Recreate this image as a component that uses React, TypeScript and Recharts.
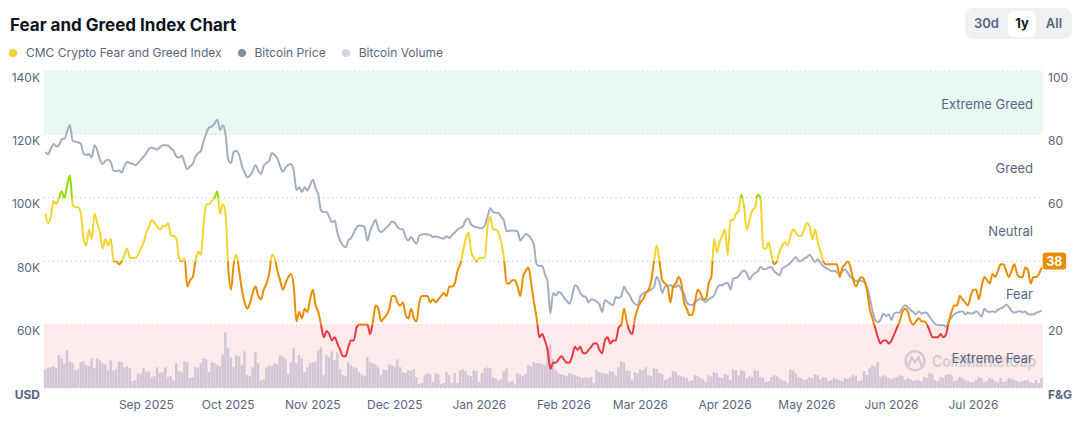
import React from 'react';
import {
  ComposedChart,
  Line,
  Bar,
  XAxis,
  YAxis,
  CartesianGrid,
  ReferenceArea,
  ReferenceDot,
} from 'recharts';

// ---------- DATA ----------
const START_DATE = '2025-07-26';

// Bitcoin price, thousands of USD (daily)
const btcPrice = [
  114.5, 113.8, 115.5, 117, 116.2, 116.6, 118.5, 118.7, 121, 123,
  118, 117.7, 117.5, 117, 114, 113.5, 113.8, 112.7, 116.6, 115,
  112, 110.7, 111.7, 112, 111.2, 108.5, 108.4, 108.6, 108, 110,
  111.4, 110.9, 110.7, 110.3, 111, 112, 113, 114.1, 115.5, 115.9,
  115.5, 115.2, 116, 116.6, 116.6, 116.5, 115.5, 114.8, 113, 112.7,
  113.3, 111, 109, 110, 110.7, 113, 114.1, 114.8, 118, 120.5,
  122.2, 122.5, 123.5, 124.6, 121.4, 122.9, 120, 112, 110.9, 114.5,
  114.8, 113.5, 110.1, 108, 106.5, 107, 108.5, 110.3, 108.5, 107.5,
  110.1, 111, 111.7, 114.1, 113.5, 112.4, 110, 108.2, 109.5, 110.3,
  110.7, 108.5, 102.5, 103.3, 101.8, 103.3, 102.3, 104, 105.7, 103,
  101, 96, 95.5, 95.5, 94, 92.3, 92.8, 89, 86.5, 85,
  84.4, 86.5, 87.3, 89, 90.7, 91.3, 91.2, 90.6, 86.5, 89.5,
  91.5, 93.1, 90.2, 89.2, 89.8, 90.7, 91.5, 92.5, 92.1, 90.8,
  90.2, 90, 87.5, 86.5, 87.6, 86.5, 85.5, 88.1, 88.4, 88.6,
  88.4, 88.3, 87.6, 87.8, 87.6, 87.3, 87.1, 87.9, 87.3, 88.3,
  89, 90, 90.5, 91, 93, 93.5, 91.5, 91, 90.7, 90.5,
  90.4, 91.3, 94, 96.7, 95.5, 95.3, 95.2, 94, 92.8, 89.4,
  89.6, 89.7, 89.6, 89.4, 86.5, 87.5, 88.6, 88.1, 87, 85,
  79, 78.5, 78.5, 76, 73.5, 63.5, 70, 69.2, 70.3, 69.9,
  68.5, 67.5, 66.6, 69, 72.4, 71.8, 70, 69, 68.7, 67,
  68, 67.8, 67.2, 66.3, 64, 67.7, 67.2, 66.5, 66.1, 68.7,
  68.4, 69, 72, 70.3, 69.4, 67.5, 66.5, 66.1, 69, 69.8,
  70.3, 70.6, 71.1, 71.9, 75, 73.4, 70, 72, 72.3, 72.4,
  71.9, 71.9, 72.4, 71, 69.8, 67, 66.3, 66.1, 67, 67.7,
  68.2, 67.7, 67.1, 68, 68.5, 69.2, 71.3, 72.4, 72.4, 73,
  73.2, 71.1, 74.5, 74.7, 75.3, 76.5, 77.1, 76.1, 74.2, 75.5,
  76.3, 76.8, 78.2, 77.5, 77.5, 78, 78.2, 76.8, 76.1, 75.6,
  77.8, 78.2, 78.8, 79.5, 80.5, 81.3, 80, 80.2, 80.8, 81.3,
  82, 80.8, 79.8, 80.6, 79.5, 78.5, 77.8, 77.4, 76.8, 77,
  76.5, 76.1, 76.8, 77.4, 76.3, 75, 74.5, 73.7, 73.9, 73.8,
  73.4, 71.8, 68.5, 64.5, 61.5, 60.8, 61.5, 63.5, 62.7, 63.2,
  61.5, 63.5, 63.8, 63.8, 65.3, 66.1, 65.5, 64.5, 64, 63.2,
  64.2, 63.4, 63.8, 63.6, 62.4, 61.2, 60.2, 59.9, 59.8, 59.8,
  59.3, 61, 62.3, 63.2, 63.8, 64, 64.2, 63.2, 63.8, 63.5,
  63.6, 64.2, 63.5, 62.5, 65, 64.2, 64, 64.2, 64, 64.7,
  65.1, 65.5, 66.3, 65.6, 64.3, 63.8, 64, 64.2, 63.9, 64.1,
  63.3, 63.2, 63.2, 63.8, 64, 64.5,
];

// CMC Crypto Fear and Greed Index (0-100, daily)
const fearGreed = [
  55, 52, 54, 59, 58, 60, 62, 60, 64, 67,
  58, 57, 57, 55, 47, 45, 50, 47, 55, 52,
  49, 44, 47, 45, 47, 40, 40, 39, 40, 42,
  44, 41, 41, 41, 42, 44, 46, 49, 51, 53,
  52, 51, 50, 51, 51, 52, 48, 48, 47, 41,
  40, 41, 32, 34, 35, 40, 43, 42, 52, 58,
  58, 59, 60, 62, 55, 58, 55, 38, 31, 39,
  42, 37, 31, 27, 25, 27, 30, 32, 29, 28,
  31, 33, 36, 42, 41, 37, 34, 31, 33, 35,
  36, 32, 21, 24, 22, 25, 24, 28, 31, 26,
  24, 20, 16, 18, 17, 15, 16, 14, 12, 10,
  10, 13, 15, 15, 19, 20, 20, 20, 20, 17,
  21, 26, 25, 21, 22, 23, 25, 29, 29, 27,
  26, 27, 23, 22, 25, 22, 21, 27, 29, 29,
  29, 27, 28, 27, 28, 29, 30, 29, 32, 32,
  33, 37, 39, 43, 47, 49, 43, 41, 40, 41,
  41, 41, 51, 54, 50, 50, 49, 46, 41, 33,
  33, 34, 34, 32, 29, 35, 37, 38, 33, 27,
  22, 16, 17, 15, 12, 6, 8, 8, 9, 10,
  9, 8, 8, 10, 13, 12, 13, 11, 11, 12,
  13, 14, 14, 12, 11, 15, 16, 14, 15, 15,
  19, 20, 25, 21, 18, 17, 22, 25, 27, 28,
  30, 31, 34, 40, 45, 40, 34, 33, 32, 27,
  32, 33, 35, 33, 27, 25, 23, 23, 27, 31,
  30, 28, 28, 33, 35, 47, 43, 46, 48, 50,
  42, 53, 53, 55, 56, 61, 57, 50, 53, 56,
  57, 61, 60, 44, 44, 46, 42, 39, 40, 43,
  45, 46, 45, 48, 50, 49, 48, 48, 50, 52,
  51, 47, 50, 46, 43, 40, 39, 39, 39, 39,
  39, 35, 38, 39, 40, 38, 34, 32, 34, 35,
  34, 31, 25, 22, 19, 16, 14, 15, 15, 14,
  15, 17, 19, 21, 24, 25, 24, 21, 20, 21,
  22, 21, 21, 20, 18, 16, 16, 16, 17, 16,
  17, 21, 24, 26, 26, 29, 28, 27, 26, 29,
  31, 31, 28, 32, 35, 34, 33, 36, 35, 37,
  39, 39, 37, 35, 37, 39, 36, 35, 35, 38,
  37, 33, 35, 35, 36, 38,
];

// Bitcoin volume, billions of USD (daily)
const btcVolume = [
  19, 20, 21, 22, 20, 33, 30, 25, 38, 27,
  25, 18, 19, 26, 27, 23, 22, 30, 20, 30,
  28, 25, 24, 18, 28, 18, 19, 27, 26, 21,
  22, 20, 7, 8, 15, 14, 20, 16, 17, 11,
  12, 21, 15, 16, 21, 11, 12, 8, 25, 17,
  16, 27, 26, 10, 11, 21, 20, 25, 30, 29,
  16, 26, 25, 23, 22, 34, 56, 40, 31, 21,
  33, 32, 23, 37, 13, 12, 21, 36, 25, 8,
  9, 21, 23, 22, 25, 24, 33, 32, 30, 14,
  26, 40, 25, 33, 30, 16, 21, 25, 26, 27,
  38, 41, 13, 33, 31, 37, 28, 36, 19, 13,
  12, 26, 23, 21, 20, 16, 13, 12, 31, 26,
  25, 24, 21, 13, 19, 18, 24, 23, 21, 29,
  21, 16, 15, 18, 17, 19, 11, 4, 5, 13,
  15, 14, 6, 15, 14, 4, 5, 16, 13, 5,
  15, 5, 18, 19, 17, 13, 12, 18, 17, 6,
  15, 20, 21, 20, 11, 10, 8, 9, 17, 20,
  6, 7, 4, 15, 13, 12, 14, 23, 22, 26,
  25, 25, 24, 23, 41, 44, 30, 18, 15, 14,
  13, 12, 15, 14, 13, 12, 11, 10, 11, 10,
  11, 5, 18, 16, 15, 15, 14, 17, 16, 13,
  21, 27, 26, 18, 17, 8, 16, 15, 19, 18,
  21, 13, 12, 20, 19, 15, 14, 8, 9, 11,
  17, 16, 13, 12, 11, 10, 7, 8, 13, 12,
  10, 9, 6, 13, 12, 16, 15, 11, 10, 14,
  13, 8, 19, 18, 13, 18, 17, 10, 12, 11,
  18, 17, 11, 10, 6, 7, 11, 13, 12, 10,
  8, 7, 5, 19, 18, 15, 11, 10, 8, 9,
  11, 10, 14, 13, 9, 11, 10, 7, 8, 10,
  9, 8, 7, 10, 9, 11, 13, 12, 7, 8,
  17, 13, 20, 23, 22, 26, 11, 13, 12, 10,
  9, 10, 11, 13, 12, 8, 10, 9, 7, 8,
  8, 7, 11, 10, 15, 14, 8, 7, 11, 10,
  13, 14, 13, 7, 8, 11, 10, 8, 7, 6,
  6, 8, 11, 10, 6, 7, 10, 9, 7, 6,
  10, 6, 7, 10, 9, 8, 7, 6, 7, 8,
  8, 6, 5, 8, 5, 10,
];

const monthTicks = [
  '2025-09-01', '2025-10-01', '2025-11-01', '2025-12-01', '2026-01-01', '2026-02-01',
  '2026-03-01', '2026-04-01', '2026-05-01', '2026-06-01', '2026-07-01',
];
const priceTicks = [40, 60, 80, 100, 120, 140];
const fgTicks = [0, 20, 40, 60, 80, 100];
const zoneBounds = [0, 20, 40, 60, 80, 100];
const zoneLabels = ['Extreme Fear', 'Fear', 'Neutral', 'Greed', 'Extreme Greed'];
const zoneFills = ['#fdeaea', 'none', 'none', 'none', '#e8f8f2'];
const zoneLineColors = ['#ea3943', '#ea8c00', '#f3d42f', '#93d900', '#16c784'];
const MONTHS = ['Jan', 'Feb', 'Mar', 'Apr', 'May', 'Jun', 'Jul', 'Aug', 'Sep', 'Oct', 'Nov', 'Dec'];

// ---------- BUILD ----------
const DAY_MS = 86400000;
const startMs = Date.parse(START_DATE + 'T00:00:00Z');
const chartData = btcPrice.map((p, i) => ({
  date: new Date(startMs + i * DAY_MS).toISOString().slice(0, 10),
  price: p,
  fg: fearGreed[i],
  vol: btcVolume[i],
}));
const lastPoint = chartData[chartData.length - 1];

// ---------- LAYOUT ----------
const W = 1085;
const H = 437;
const TOP = 71;
const LEFT_W = 44;
const RIGHT_W = 42;
const XAXIS_H = 49;
const PLOT_TOP = TOP;
const PLOT_BOTTOM = H - XAXIS_H;
const TEXT = '#58667e';
const FONT = 'Inter, "Noto Sans", sans-serif';

const formatMonth = (d: string) => {
  const [y, m] = d.split('-');
  return `${MONTHS[parseInt(m, 10) - 1]} ${y}`;
};

const LeftTick = (props: any) => {
  const { x, y, payload } = props;
  const v = payload.value;
  const isBase = v === priceTicks[0];
  return (
    <text x={x} y={y + 6} textAnchor="end" dominantBaseline="central" fontSize={12}
      fontFamily={FONT} fill={TEXT} fontWeight={isBase ? 700 : 400}>
      {isBase ? 'USD' : `${v}K`}
    </text>
  );
};

const RightTick = (props: any) => {
  const { x, y, payload } = props;
  const v = payload.value;
  if (v === 40) return null;
  const isBase = v === 0;
  return (
    <text x={x} y={y + 6} textAnchor="start" dominantBaseline="central" fontSize={12}
      fontFamily={FONT} fill={TEXT} fontWeight={isBase ? 700 : 400}>
      {isBase ? 'F&G' : `${v}`}
    </text>
  );
};

const BottomTick = (props: any) => {
  const { x, y, payload } = props;
  return (
    <text x={x} y={y + 16} textAnchor="middle" dominantBaseline="central" fontSize={12}
      fontFamily={FONT} fill={TEXT}>
      {formatMonth(payload.value)}
    </text>
  );
};

const ZoneLabel = (props: any) => {
  const { viewBox, text, watermark } = props;
  if (!viewBox) return null;
  const { x, y, width, height } = viewBox;
  const rx = x + width - 10;
  const cy = y + height / 2 + 1.5;
  return (
    <g>
      {watermark && (
        <g opacity={0.45}>
          <circle cx={rx - 118} cy={cy + 3} r={9.5} fill="none" stroke="#a4a9b6" strokeWidth={2.4} />
          <path
            d={`M ${rx - 124} ${cy + 7} L ${rx - 121.5} ${cy - 1} L ${rx - 118} ${cy + 5} L ${rx - 114.5} ${cy - 1} L ${rx - 112} ${cy + 7}`}
            fill="none" stroke="#a4a9b6" strokeWidth={2.2} strokeLinejoin="round" strokeLinecap="round"
          />
          <text x={rx - 101} y={cy + 3} dominantBaseline="central" fontSize={16} fontWeight={600}
            fontFamily={FONT} fill="#a4a9b6" textLength={104} lengthAdjust="spacingAndGlyphs">
            CoinMarketCap
          </text>
        </g>
      )}
      <text x={rx} y={cy} textAnchor="end" dominantBaseline="central" fontSize={13}
        fontFamily={FONT} fill={TEXT}>
        {text}
      </text>
    </g>
  );
};

const Badge = (props: any) => {
  const { cx, cy } = props;
  if (cx == null || cy == null) return null;
  return (
    <g>
      <rect x={cx + 1} y={cy - 15} width={23.5} height={17} rx={3} fill="#ea8c00" />
      <text x={cx + 12.75} y={cy - 6.3} textAnchor="middle" dominantBaseline="central"
        fontSize={12.5} fontWeight={700} fontFamily={FONT} fill="#ffffff">
        {lastPoint.fg}
      </text>
    </g>
  );
};

const Dot = ({ color }: { color: string }) => (
  <span style={{ display: 'inline-block', width: 8, height: 8, borderRadius: 4, background: color, marginRight: 9 }} />
);

export default function App() {
  const span = PLOT_BOTTOM - PLOT_TOP;
  const stops: { off: number; color: string }[] = [];
  for (let i = zoneLineColors.length - 1; i >= 0; i--) {
    const hi = (100 - zoneBounds[i + 1]) / 100;
    const lo = (100 - zoneBounds[i]) / 100;
    stops.push({ off: hi, color: zoneLineColors[i] });
    stops.push({ off: lo, color: zoneLineColors[i] });
  }
  return (
    <div style={{ position: 'absolute', left: 0, top: 0, width: W, height: H, background: '#fff', fontFamily: FONT, overflow: 'hidden' }}>
      <div style={{ position: 'absolute', left: 10, top: 14.5, fontSize: 17, fontWeight: 700, color: '#0d1421', lineHeight: '20px', whiteSpace: 'nowrap' }}>
        Fear and Greed Index Chart
      </div>
      <div style={{ position: 'absolute', left: 9, top: 44, fontSize: 12, color: TEXT, lineHeight: '17px', display: 'flex', alignItems: 'center', whiteSpace: 'nowrap' }}>
        <Dot color="#f4d230" />
        <span style={{ marginRight: 16 }}>CMC Crypto Fear and Greed Index</span>
        <Dot color="#858ca2" />
        <span style={{ marginRight: 16 }}>Bitcoin Price</span>
        <Dot color="#cfd6e4" />
        <span>Bitcoin Volume</span>
      </div>
      <div style={{ position: 'absolute', left: 965, top: 8, width: 107, height: 31, borderRadius: 8, background: '#eff2f5' }}>
        <div style={{ position: 'absolute', left: 43, top: 2.5, width: 28, height: 26, borderRadius: 6, background: '#fff' }} />
        <span style={{ position: 'absolute', left: 0, width: 43, top: 0, lineHeight: '31px', textAlign: 'center', fontSize: 13, fontWeight: 600, color: TEXT }}>30d</span>
        <span style={{ position: 'absolute', left: 43, width: 28, top: 0, lineHeight: '31px', textAlign: 'center', fontSize: 13, fontWeight: 700, color: '#0d1421' }}>1y</span>
        <span style={{ position: 'absolute', left: 71, width: 36, top: 0, lineHeight: '31px', textAlign: 'center', fontSize: 13, fontWeight: 600, color: TEXT }}>All</span>
      </div>
      <div style={{ position: 'absolute', left: 0, top: 0 }}>
        <ComposedChart width={W} height={H} data={chartData}
          margin={{ top: TOP, right: 0, bottom: 0, left: 0 }} barCategoryGap={0} barGap={0}>
          <defs>
            <linearGradient id="fgGrad" gradientUnits="userSpaceOnUse" x1="0" y1={PLOT_TOP} x2="0" y2={PLOT_TOP + span}>
              {stops.map((s, i) => (
                <stop key={i} offset={s.off} stopColor={s.color} />
              ))}
            </linearGradient>
          </defs>
          {zoneLabels.map((lab, i) => (
            <ReferenceArea key={lab} yAxisId="fg" y1={zoneBounds[i]} y2={zoneBounds[i + 1]}
              fill={zoneFills[i] === 'none' ? '#ffffff' : zoneFills[i]}
              fillOpacity={zoneFills[i] === 'none' ? 0 : 1} stroke="none"
              label={<ZoneLabel text={lab} watermark={i === 0} />} />
          ))}
          <CartesianGrid yAxisId="fg" vertical={false} stroke="#aab1bd" strokeDasharray="1 3.5" />
          <XAxis dataKey="date" ticks={monthTicks} interval={0} axisLine={false} tickLine={false}
            tickSize={0} tickMargin={0} height={XAXIS_H} tick={<BottomTick />} />
          <YAxis yAxisId="price" orientation="left" domain={[40, 140]} ticks={priceTicks}
            width={LEFT_W} axisLine={false} tickLine={false} tickSize={0} tickMargin={4}
            tick={<LeftTick />} allowDataOverflow />
          <YAxis yAxisId="fg" orientation="right" domain={[0, 100]} ticks={fgTicks}
            width={RIGHT_W} axisLine={false} tickLine={false} tickSize={0} tickMargin={5}
            tick={<RightTick />} />
          <YAxis yAxisId="vol" hide domain={[0, 320]} />
          <Bar yAxisId="vol" dataKey="vol" fill="#d2c6d6" barSize={2.8} isAnimationActive={false} />
          <Line yAxisId="price" dataKey="price" type="monotone" stroke="#a3aec1" strokeWidth={2}
            dot={false} activeDot={false} isAnimationActive={false} />
          <Line yAxisId="fg" dataKey="fg" type="monotone" stroke="url(#fgGrad)" strokeWidth={2}
            dot={false} activeDot={false} isAnimationActive={false} />
          <ReferenceDot yAxisId="fg" x={lastPoint.date} y={lastPoint.fg} r={0}
            shape={<Badge />} ifOverflow="visible" />
        </ComposedChart>
      </div>
    </div>
  );
}
